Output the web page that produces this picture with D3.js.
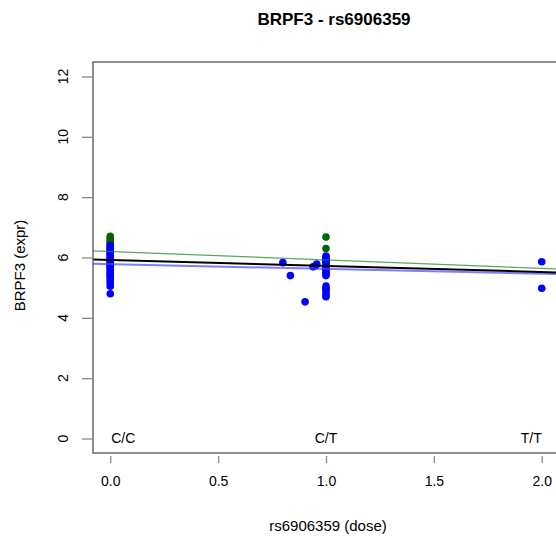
<!DOCTYPE html>
<html><head><meta charset="utf-8">
<script src="https://cdn.jsdelivr.net/npm/d3@7"></script>
<style>
html,body{margin:0;padding:0;background:#fff;}
text{font-family:"Liberation Sans",Arial,Helvetica,sans-serif;}
</style></head>
<body><svg id="chart" width="556" height="540"></svg>
<script>
// ---- data ----
const title = "BRPF3 - rs6906359";
const xTitle = "rs6906359 (dose)";
const yTitle = "BRPF3 (expr)";
const xTicks = [0, 0.5, 1, 1.5, 2];
const xTickLabels = ["0.0", "0.5", "1.0", "1.5", "2.0"];
const yTicks = [0, 2, 4, 6, 8, 10, 12];
const genotypes = ["C/C", "C/T", "T/T"];
const genotypeDose = [0, 1, 2];

// green group (dose, expr)
const greenDose = [0, 0, 0, 0, 0, 0, 0, 0, 0, 0, 1, 1, 1];
const greenExpr = [6.7, 6.64, 6.58, 6.52, 6.47, 6.42, 6.3, 6.1, 5.9, 5.7, 6.68, 6.3, 4.95];
// blue group (dose, expr)
const blueDose = [0,0,0,0,0,0,0,0,0,0,0,0,0,0,0,0,0,0,0,0,0,0,0,0,0,0,0,
  0.8, 0.835, 0.903, 0.94, 0.95, 0.957,
  1,1,1,1,1,1,1,1,1,1,1,1,1,1,1,1,1,1,1,
  2, 2];
const blueExpr = [6.4, 6.35, 6.3, 6.25, 6.2, 6.15, 6.1, 6.05, 6.0, 5.95, 5.9, 5.85, 5.8, 5.75, 5.7, 5.65, 5.6, 5.55, 5.5, 5.45, 5.4, 5.35, 5.3, 5.22, 5.15, 5.05, 4.8,
  5.83, 5.4, 4.53, 5.69, 5.72, 5.78,
  6.05, 6.0, 5.95, 5.9, 5.85, 5.8, 5.75, 5.7, 5.65, 5.6, 5.55, 5.5, 5.45, 5.4, 5.05, 4.95, 4.85, 4.75, 4.7,
  5.86, 4.98];

// regression lines
const lineNames = ["green", "blue", "all"];
const lineIntercepts = [6.2, 5.78, 5.92];
const lineSlopes = [-0.28, -0.16, -0.2];
const lineColors = ["rgba(34,139,34,0.75)", "rgba(70,70,255,0.7)", "#000"];
const lineWidths = [1.3, 2, 2];

// ---- layout ----
const svg = d3.select("#chart");
const mL = 93, mR = 559, mT = 62, mB = 453;
const x = d3.scaleLinear().domain([-0.08, 2.08]).range([mL, mR]);
const y = d3.scaleLinear().domain([-0.48, 12.48]).range([mB, mT]);

svg.append("rect").attr("width", 556).attr("height", 540).attr("fill", "#fff");

svg.append("defs").append("clipPath").attr("id", "clip")
  .append("rect").attr("x", mL).attr("y", mT).attr("width", mR - mL).attr("height", mB - mT);

// points
const g = svg.append("g").attr("clip-path", "url(#clip)");
g.selectAll("circle.green").data(greenDose.map((d, i) => [d, greenExpr[i]])).join("circle")
  .attr("class", "green").attr("cx", d => x(d[0])).attr("cy", d => y(d[1])).attr("r", 3.8).attr("fill", "#006400");
g.selectAll("circle.blue").data(blueDose.map((d, i) => [d, blueExpr[i]])).join("circle")
  .attr("class", "blue").attr("cx", d => x(d[0])).attr("cy", d => y(d[1])).attr("r", 3.8).attr("fill", "#0000ff");

// lines
const xd = x.domain();
lineNames.forEach((n, i) => {
  g.append("line")
    .attr("x1", x(xd[0])).attr("y1", y(lineIntercepts[i] + lineSlopes[i] * xd[0]))
    .attr("x2", x(xd[1])).attr("y2", y(lineIntercepts[i] + lineSlopes[i] * xd[1]))
    .attr("stroke", lineColors[i]).attr("stroke-width", lineWidths[i]);
});

// genotype labels
genotypes.forEach((t, i) => {
  svg.append("text").attr("x", x(genotypeDose[i]) + (i === 0 ? 1 : 0)).attr("y", y(0)).attr("dy", "0.35em")
    .attr("text-anchor", i === 0 ? "start" : (i === 2 ? "end" : "middle"))
    .attr("font-size", 14).attr("fill", "#000").text(t);
});

// box
svg.append("rect").attr("x", mL).attr("y", mT).attr("width", mR - mL).attr("height", mB - mT)
  .attr("fill", "none").attr("stroke", "#555").attr("stroke-width", 1.3);

// x axis
const xAxis = svg.append("g").attr("transform", `translate(0,${mB + 3})`)
  .call(d3.axisBottom(x).tickValues(xTicks).tickFormat((d, i) => xTickLabels[i]).tickSize(7).tickPadding(13));
xAxis.select(".domain").remove();
xAxis.selectAll("line").attr("stroke", "#888").attr("stroke-width", 1.3);
xAxis.selectAll("text").attr("font-size", 14).attr("fill", "#000")
  .attr("font-family", "Liberation Sans, Arial, sans-serif");

// y axis
const yAxis = svg.append("g").attr("transform", `translate(${mL},0)`)
  .call(d3.axisLeft(y).tickValues(yTicks).tickSize(11).tickFormat(d3.format("d")).tickPadding(0));
yAxis.select(".domain").remove();
yAxis.selectAll("line").attr("stroke", "#888").attr("stroke-width", 1.3);
yAxis.selectAll("text").remove();
yTicks.forEach(v => {
  svg.append("text").attr("transform", `translate(63,${y(v)}) rotate(-90)`)
    .attr("text-anchor", "middle").attr("dy", "0.35em").attr("font-size", 14).attr("fill", "#000").text(d3.format("d")(v));
});

// titles
svg.append("text").attr("x", (mL + mR) / 2 + 8).attr("y", 25).attr("text-anchor", "middle")
  .attr("font-size", 17).attr("font-weight", "bold").attr("fill", "#000").text(title);
svg.append("text").attr("x", (mL + mR) / 2 + 2).attr("y", 526).attr("dy", "0.35em").attr("text-anchor", "middle")
  .attr("font-size", 15).attr("fill", "#000").text(xTitle);
svg.append("text").attr("transform", `translate(20,${(mT + mB) / 2 + 8}) rotate(-90)`)
  .attr("text-anchor", "middle").attr("dy", "0.35em").attr("font-size", 15).attr("fill", "#000").text(yTitle);
</script></body></html>
